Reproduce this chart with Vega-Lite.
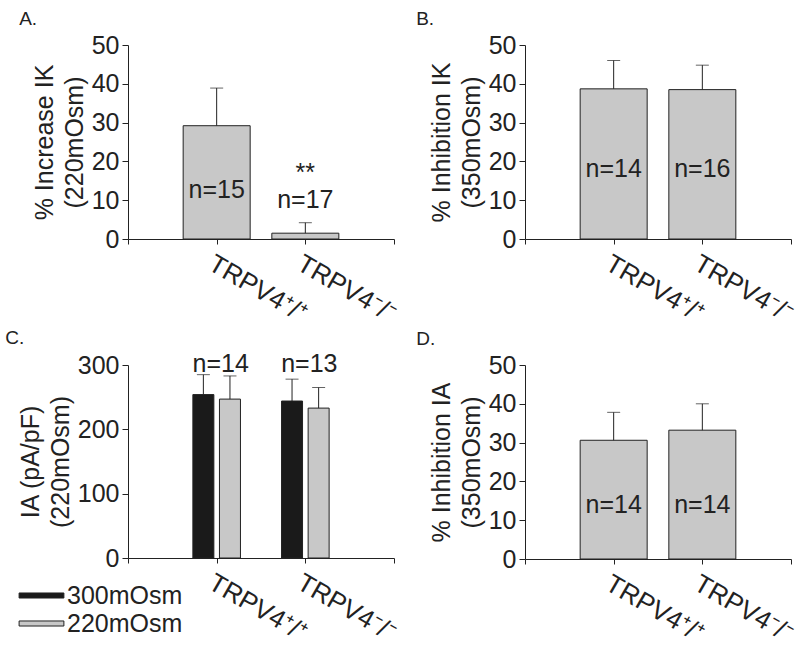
{
  "$schema": "https://vega.github.io/schema/vega-lite/v6.json",
  "background": "white",
  "padding": {"left": 5, "top": 10, "right": 5, "bottom": 5},
  "datasets": {
    "A": [
      {"genotype": "TRPV4⁺/⁺", "value": 29.2, "upper": 38.9, "n": "n=15"},
      {"genotype": "TRPV4⁻/⁻", "value": 1.5, "upper": 4.2, "n": "n=17", "sig": "**"}
    ],
    "B": [
      {"genotype": "TRPV4⁺/⁺", "value": 38.7, "upper": 46.0, "n": "n=14"},
      {"genotype": "TRPV4⁻/⁻", "value": 38.5, "upper": 44.8, "n": "n=16"}
    ],
    "C": [
      {"genotype": "TRPV4⁺/⁺", "osm": "300mOsm", "value": 254, "upper": 285},
      {"genotype": "TRPV4⁺/⁺", "osm": "220mOsm", "value": 247, "upper": 283},
      {"genotype": "TRPV4⁻/⁻", "osm": "300mOsm", "value": 244, "upper": 278},
      {"genotype": "TRPV4⁻/⁻", "osm": "220mOsm", "value": 233, "upper": 265}
    ],
    "Cn": [
      {"genotype": "TRPV4⁺/⁺", "n": "n=14"},
      {"genotype": "TRPV4⁻/⁻", "n": "n=13"}
    ],
    "D": [
      {"genotype": "TRPV4⁺/⁺", "value": 30.6, "upper": 37.8, "n": "n=14"},
      {"genotype": "TRPV4⁻/⁻", "value": 33.2, "upper": 40.0, "n": "n=14"}
    ]
  },
  "columns": 2,
  "spacing": {"row": 1, "column": 16},
  "concat": [
    {
      "width": 266, "height": 194,
      "title": {"text": "A.", "dx": -13},
      "data": {"name": "A"},
      "encoding": {
        "x": {"field": "genotype", "type": "nominal",
          "scale": {"type": "point", "domain": ["L", "TRPV4⁺/⁺", "TRPV4⁻/⁻", "R"], "padding": 0},
          "axis": {"title": null, "labelExpr": "datum.value == 'L' || datum.value == 'R' ? '' : datum.value"}}
      },
      "layer": [
        {"mark": {"type": "bar", "width": 67, "fill": "#c8c8c8", "stroke": "#222", "strokeWidth": 1},
         "encoding": {"y": {"field": "value", "type": "quantitative",
           "scale": {"domain": [0, 50], "nice": false},
           "axis": {"values": [0, 10, 20, 30, 40, 50], "title": ["% Increase IK", "(220mOsm)"]}}}},
        {"mark": {"type": "rule", "color": "#222"},
         "encoding": {"y": {"field": "value", "type": "quantitative", "axis": {"values": [0, 10, 20, 30, 40, 50], "title": ["% Increase IK", "(220mOsm)"]}}, "y2": {"field": "upper"}}},
        {"mark": {"type": "tick", "color": "#222", "size": 13, "thickness": 1},
         "encoding": {"y": {"field": "upper", "type": "quantitative", "axis": {"values": [0, 10, 20, 30, 40, 50], "title": ["% Increase IK", "(220mOsm)"]}}}},
        {"transform": [{"filter": "datum.genotype == 'TRPV4⁺/⁺'"}],
         "mark": {"type": "text", "baseline": "middle"},
         "encoding": {"y": {"datum": 12.6, "type": "quantitative", "axis": {"values": [0, 10, 20, 30, 40, 50], "title": ["% Increase IK", "(220mOsm)"]}}, "text": {"field": "n"}}},
        {"transform": [{"filter": "datum.genotype == 'TRPV4⁻/⁻'"}],
         "mark": {"type": "text", "baseline": "middle"},
         "encoding": {"y": {"datum": 10, "type": "quantitative", "axis": {"values": [0, 10, 20, 30, 40, 50], "title": ["% Increase IK", "(220mOsm)"]}}, "text": {"field": "n"}}},
        {"transform": [{"filter": "datum.genotype == 'TRPV4⁻/⁻'"}],
         "mark": {"type": "text", "baseline": "middle"},
         "encoding": {"y": {"datum": 17, "type": "quantitative", "axis": {"values": [0, 10, 20, 30, 40, 50], "title": ["% Increase IK", "(220mOsm)"]}}, "text": {"field": "sig"}}}
      ]
    },
    {
      "width": 266, "height": 194,
      "title": {"text": "B.", "dx": -13},
      "data": {"name": "B"},
      "encoding": {
        "x": {"field": "genotype", "type": "nominal",
          "scale": {"type": "point", "domain": ["L", "TRPV4⁺/⁺", "TRPV4⁻/⁻", "R"], "padding": 0},
          "axis": {"title": null, "labelExpr": "datum.value == 'L' || datum.value == 'R' ? '' : datum.value"}}
      },
      "layer": [
        {"mark": {"type": "bar", "width": 67, "fill": "#c8c8c8", "stroke": "#222", "strokeWidth": 1},
         "encoding": {"y": {"field": "value", "type": "quantitative",
           "scale": {"domain": [0, 50], "nice": false},
           "axis": {"values": [0, 10, 20, 30, 40, 50], "title": ["% Inhibition IK", "(350mOsm)"]}}}},
        {"mark": {"type": "rule", "color": "#222"},
         "encoding": {"y": {"field": "value", "type": "quantitative", "axis": {"values": [0, 10, 20, 30, 40, 50], "title": ["% Inhibition IK", "(350mOsm)"]}}, "y2": {"field": "upper"}}},
        {"mark": {"type": "tick", "color": "#222", "size": 13, "thickness": 1},
         "encoding": {"y": {"field": "upper", "type": "quantitative", "axis": {"values": [0, 10, 20, 30, 40, 50], "title": ["% Inhibition IK", "(350mOsm)"]}}}},
        {"mark": {"type": "text", "baseline": "middle"},
         "encoding": {"y": {"datum": 18, "type": "quantitative", "axis": {"values": [0, 10, 20, 30, 40, 50], "title": ["% Inhibition IK", "(350mOsm)"]}}, "text": {"field": "n"}}}
      ]
    },
    {
      "width": 266, "height": 193,
      "title": {"text": "C.", "dx": -13},
      "encoding": {
        "x": {"field": "genotype", "type": "nominal",
          "scale": {"type": "point", "domain": ["L", "TRPV4⁺/⁺", "TRPV4⁻/⁻", "R"], "padding": 0},
          "axis": {"title": null, "labelExpr": "datum.value == 'L' || datum.value == 'R' ? '' : datum.value"}}
      },
      "layer": [
        {"data": {"name": "C"},
         "transform": [{"filter": "datum.osm == '300mOsm'"}],
         "mark": {"type": "bar", "width": 21, "stroke": "#222", "strokeWidth": 1, "xOffset": -13.3},
         "encoding": {
           "y": {"field": "value", "type": "quantitative",
             "scale": {"domain": [0, 300], "nice": false},
             "axis": {"values": [0, 100, 200, 300], "title": ["IA (pA/pF)", "(220mOsm)"]}},
           "fill": {"field": "osm", "type": "nominal",
             "scale": {"domain": ["300mOsm", "220mOsm"], "range": ["#1a1a1a", "#c8c8c8"]},
             "legend": {"title": null, "orient": "none", "legendX": -101, "legendY": 536,
               "symbolType": "M-1.6,-0.18H1.6V0.18H-1.6Z", "symbolSize": 784, "symbolStrokeColor": "#222", "symbolStrokeWidth": 1,
               "labelFontSize": 25, "labelColor": "#222", "rowPadding": 0, "labelOffset": 11}}
         }},
        {"data": {"name": "C"},
         "transform": [{"filter": "datum.osm == '220mOsm'"}],
         "mark": {"type": "bar", "width": 21, "stroke": "#222", "strokeWidth": 1, "xOffset": 13.3},
         "encoding": {
           "y": {"field": "value", "type": "quantitative", "axis": {"values": [0, 100, 200, 300], "title": ["IA (pA/pF)", "(220mOsm)"]}},
           "fill": {"field": "osm", "type": "nominal"}
         }},
        {"data": {"name": "C"},
         "transform": [{"filter": "datum.osm == '300mOsm'"}],
         "mark": {"type": "rule", "color": "#222", "xOffset": -13.3},
         "encoding": {"y": {"field": "value", "type": "quantitative", "axis": {"values": [0, 100, 200, 300], "title": ["IA (pA/pF)", "(220mOsm)"]}}, "y2": {"field": "upper"}}},
        {"data": {"name": "C"},
         "transform": [{"filter": "datum.osm == '220mOsm'"}],
         "mark": {"type": "rule", "color": "#222", "xOffset": 13.3},
         "encoding": {"y": {"field": "value", "type": "quantitative", "axis": {"values": [0, 100, 200, 300], "title": ["IA (pA/pF)", "(220mOsm)"]}}, "y2": {"field": "upper"}}},
        {"data": {"name": "C"},
         "transform": [{"filter": "datum.osm == '300mOsm'"}],
         "mark": {"type": "tick", "color": "#222", "size": 13, "thickness": 1, "xOffset": -13.3},
         "encoding": {"y": {"field": "upper", "type": "quantitative", "axis": {"values": [0, 100, 200, 300], "title": ["IA (pA/pF)", "(220mOsm)"]}}}},
        {"data": {"name": "C"},
         "transform": [{"filter": "datum.osm == '220mOsm'"}],
         "mark": {"type": "tick", "color": "#222", "size": 13, "thickness": 1, "xOffset": 13.3},
         "encoding": {"y": {"field": "upper", "type": "quantitative", "axis": {"values": [0, 100, 200, 300], "title": ["IA (pA/pF)", "(220mOsm)"]}}}},
        {"data": {"name": "Cn"},
         "mark": {"type": "text", "baseline": "middle", "dx": 4},
         "encoding": {"y": {"datum": 301, "type": "quantitative", "axis": {"values": [0, 100, 200, 300], "title": ["IA (pA/pF)", "(220mOsm)"]}}, "text": {"field": "n"}}}
      ]
    },
    {
      "width": 266, "height": 194,
      "title": {"text": "D.", "dx": -13},
      "data": {"name": "D"},
      "encoding": {
        "x": {"field": "genotype", "type": "nominal",
          "scale": {"type": "point", "domain": ["L", "TRPV4⁺/⁺", "TRPV4⁻/⁻", "R"], "padding": 0},
          "axis": {"title": null, "labelExpr": "datum.value == 'L' || datum.value == 'R' ? '' : datum.value"}}
      },
      "layer": [
        {"mark": {"type": "bar", "width": 67, "fill": "#c8c8c8", "stroke": "#222", "strokeWidth": 1},
         "encoding": {"y": {"field": "value", "type": "quantitative",
           "scale": {"domain": [0, 50], "nice": false},
           "axis": {"values": [0, 10, 20, 30, 40, 50], "title": ["% Inhibition IA", "(350mOsm)"]}}}},
        {"mark": {"type": "rule", "color": "#222"},
         "encoding": {"y": {"field": "value", "type": "quantitative", "axis": {"values": [0, 10, 20, 30, 40, 50], "title": ["% Inhibition IA", "(350mOsm)"]}}, "y2": {"field": "upper"}}},
        {"mark": {"type": "tick", "color": "#222", "size": 13, "thickness": 1},
         "encoding": {"y": {"field": "upper", "type": "quantitative", "axis": {"values": [0, 10, 20, 30, 40, 50], "title": ["% Inhibition IA", "(350mOsm)"]}}}},
        {"mark": {"type": "text", "baseline": "middle"},
         "encoding": {"y": {"datum": 13.8, "type": "quantitative", "axis": {"values": [0, 10, 20, 30, 40, 50], "title": ["% Inhibition IA", "(350mOsm)"]}}, "text": {"field": "n"}}}
      ]
    }
  ],
  "config": {
    "font": "Liberation Sans",
    "view": {"stroke": null},
    "title": {"fontSize": 19, "fontWeight": "normal", "anchor": "start", "frame": "bounds", "color": "#222", "font": "Liberation Sans", "offset": 4},
    "text": {"fontSize": 25, "color": "#222", "font": "Liberation Sans"},
    "axis": {"grid": false, "domainColor": "#222", "tickColor": "#222", "labelColor": "#222", "titleColor": "#222",
      "labelFontSize": 25, "titleFontSize": 25, "titleFontWeight": "normal", "labelFont": "Liberation Sans", "titleFont": "Liberation Sans",
      "tickSize": 6, "labelPadding": 3, "titlePadding": 4, "titleLineHeight": 30},
    "axisX": {"labelAngle": 30, "labelAlign": "left", "labelBaseline": "top", "tickSize": 5, "labelPadding": 6, "labelFontSize": 26, "labelOverlap": false},
    "axisY": {"labelOverlap": false}
  }
}
